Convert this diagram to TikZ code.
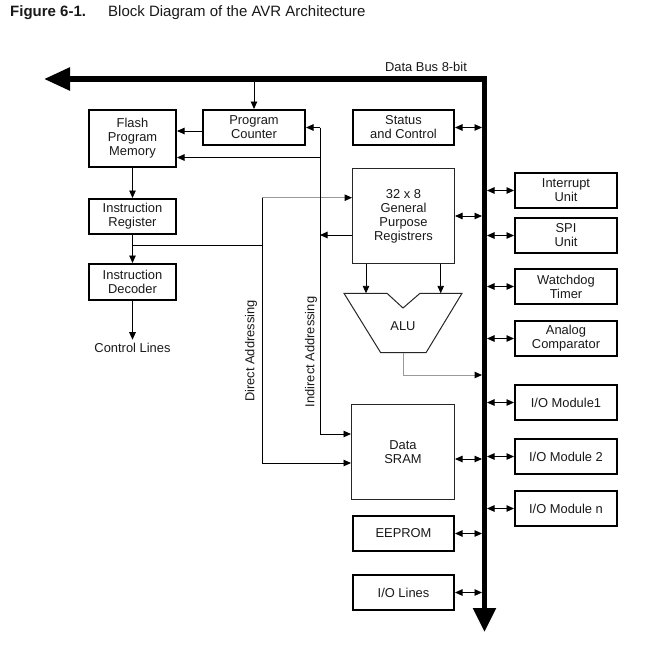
\documentclass[tikz,border=0pt]{standalone}
\usepackage{fontspec}
\setmainfont{Liberation Sans}
\usetikzlibrary{arrows.meta}
\tikzset{
  blk/.style={draw, line width=2pt, minimum width=102pt, minimum height=35pt, align=center, inner sep=1pt},
  tblk/.style={draw=black!85, line width=1pt, minimum width=102pt, minimum height=95pt, align=center, inner sep=1pt},
  arr/.style={line width=0.9pt, -{Triangle[length=7.5pt,width=6.5pt]}},
  dbl/.style={line width=0.9pt, {Triangle[length=7.5pt,width=6.5pt]}-{Triangle[length=7.5pt,width=6.5pt]}},
  garr/.style={draw=black!40, line width=1pt, -{Triangle[length=7.5pt,width=6.5pt,color=black]}},
  bus/.style={line width=5.5pt, {Triangle[length=26pt,width=22pt]}-{Triangle[length=24pt,width=22pt]}}
}

\begin{document}
\begin{tikzpicture}[x=1pt, y=-1pt, every node/.style={font=\fontsize{12.9pt}{14pt}\selectfont, text=black!90}]
\useasboundingbox (0,0) rectangle (671,645);
\node[anchor=west, inner sep=0, font=\fontsize{15pt}{18pt}\selectfont\bfseries] (fig) at (10,13) {Figure 6-1.};
\node[anchor=west, inner sep=0, font=\fontsize{15pt}{18pt}\selectfont] (ttl) at (108,13) {Block Diagram of the AVR Architecture};
\node (buslbl) at (426,67) {Data Bus 8-bit};

\node[blk, minimum width=87pt, minimum height=57pt] (flash) at (132.5,138.5) {Flash\\Program\\Memory};
\node[blk] (pc) at (254,127.5) {Program\\Counter};
\node[blk, minimum width=87pt] (ir) at (132.5,216.5) {Instruction\\Register};
\node[blk, minimum width=87pt, minimum height=36pt] (dec) at (132.5,282) {Instruction\\Decoder};
\node (ctrl) at (132.5,348) {Control Lines};

\node[blk, minimum width=101pt] (stat) at (403.5,127.5) {Status\\and Control};
\node[tblk] (gpr) at (403.5,216) {32 x 8\\General\\Purpose\\Registrers};
\node[tblk, minimum width=103pt] (sram) at (403,452) {Data\\SRAM};
\node[blk, minimum width=101pt] (eeprom) at (403.5,533.5) {EEPROM};
\node[blk, minimum width=101pt] (iolines) at (403.5,592.5) {I/O Lines};

\node[blk] (intr) at (566,190.5) {Interrupt\\Unit};
\node[blk] (spi) at (566,235.5) {SPI\\Unit};
\node[blk] (wdt) at (566,286.5) {Watchdog\\Timer};
\node[blk] (acomp) at (566,338.5) {Analog\\Comparator};
\node[blk] (iom1) at (566,402.5) {I/O Module1};
\node[blk] (iom2) at (566,456.5) {I/O Module 2};
\node[blk] (iomn) at (566,508.5) {I/O Module n};

\draw[draw=black!85, line width=1pt] (344,293.3) -- (387,293.3) -- (403,308) -- (420,293.3) -- (462,293.3) -- (426,352.7) -- (380.7,352.7) -- cycle;
\node (alu) at (403,326) {ALU};
\coordinate (alutop) at (403,293.3);
\coordinate (aluout) at (403,352.7);
\coordinate (aluo) at (482,375);

\node[rotate=90] (dlbl) at (251,351) {Direct Addressing};
\node[rotate=90] (ilbl) at (311,352) {Indirect Addressing};

\coordinate (busW) at (44,79);
\coordinate (busNE) at (484.5,79);
\coordinate (busS) at (484.5,632);
\coordinate (busL) at (482,0);
\coordinate (busR) at (487,0);

\coordinate (ind) at (320,127.5);
\coordinate (indb) at (320,434);
\coordinate (dir) at (262,197.7);
\coordinate (dirb) at (262,463);
\coordinate (irb) at (132.5,245);
\coordinate (flin) at ([yshift=-19pt]flash.east);
\coordinate (flpc) at ([yshift=-3.5pt]pc.west);
\coordinate (gprout) at ([yshift=-19pt]gpr.west);
\coordinate (sramio) at ([yshift=-7pt]sram.east);

\draw[arr] (pc.north |- busNE) -- (pc.north);
\draw[arr] (flpc) -- (flpc -| flash.east);
\draw[arr] (flash) -- (ir);
\draw[arr] (ir) -- (dec);
\draw[arr] (dec) -- (ctrl);
\draw[line width=0.9pt] (irb) -- (irb -| dir);
\draw[garr] (dir) -- (dir -| gpr.west);
\draw[arr] (dir) -- (dirb) -- (dirb -| sram.west);
\draw[arr] (ind) -- (pc.east);
\draw[arr] (ind |- flin) -- (flin);
\draw[arr] (ind) -- (indb) -- (indb -| sram.west);
\draw[arr] (gprout) -- (gprout -| ind);
\draw[arr] ([xshift=-37.5pt]gpr.south) -- ([xshift=-37.5pt]gpr.south |- alutop);
\draw[arr] ([xshift=37.2pt]gpr.south) -- ([xshift=37.2pt]gpr.south |- alutop);
\draw[garr] (aluout) |- (aluo);

\foreach \n in {stat,gpr,eeprom,iolines}
  \draw[dbl] (\n.east) -- (\n.east -| busL);
\draw[dbl] (sramio) -- (sramio -| busL);
\foreach \n in {intr,spi,wdt,acomp,iom1,iom2,iomn}
  \draw[dbl] (\n.west -| busR) -- (\n.west);

\draw[bus] (busW) -- (busNE) -- (busS);
\end{tikzpicture}
\end{document}
